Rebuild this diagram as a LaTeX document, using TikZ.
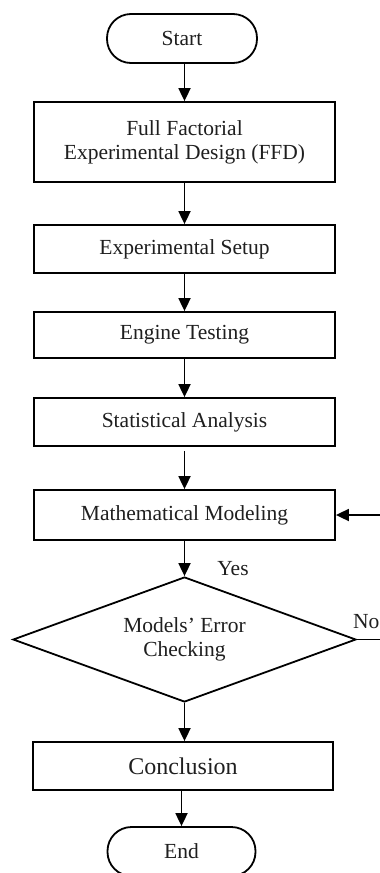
\documentclass[tikz,border=0pt]{standalone}
\usepackage{fontspec}
\setmainfont{Liberation Serif}
\usetikzlibrary{arrows.meta,shapes.geometric}
\begin{document}
\begin{tikzpicture}[x=1pt,y=-1pt,
  every node/.style={font=\fontsize{21.5}{24}\selectfont, text=black!88},
  procbox/.style={draw, line width=1.8pt, minimum width=301pt, inner sep=0pt},
  termbox/.style={draw, line width=1.8pt, minimum width=150pt, minimum height=49pt, rounded corners=24pt, inner sep=0pt},
  decbox/.style={draw, diamond, line width=1.8pt, aspect=2.744, minimum width=343pt, minimum height=125pt, inner sep=0pt, align=center},
  flow/.style={line width=1.8pt, -{Triangle[width=12pt,length=13pt]}},
  lbl/.style={inner sep=0pt}]
\useasboundingbox (0,0) rectangle (380,873);
\node[termbox] (start) at (182,38.5) {Start};
\node[procbox, minimum height=80pt, align=center] (ffd) at (184.5,142) {\fontsize{21.5}{35}\selectfont Full Factorial\\ Experimental Design (FFD)};
\node[procbox, minimum height=48pt] (setup) at (184.5,249) {Experimental Setup};
\node[procbox, minimum height=46pt] (engine) at (184.5,335) {Engine Testing};
\node[procbox, minimum height=48pt] (stat) at (184.5,422) {Statistical Analysis};
\node[procbox, minimum height=50pt] (model) at (184.5,515) {Mathematical Modeling};
\node[decbox] (check) at (184.5,639.5) {\fontsize{21.5}{22}\selectfont Models' Error\\ Checking};
\node[procbox, minimum width=300pt, minimum height=48pt, font=\fontsize{24}{28}\selectfont] (concl) at (183,766) {Conclusion};
\node[termbox, minimum width=148pt] (end) at (181.5,851.5) {End};
\node[lbl] (yes) at (233,569) {Yes};
\node[lbl, anchor=west] (no) at (353,622) {No};
\coordinate (fbA) at (395,639.5);
\coordinate (fbB) at (395,515);
\draw[flow] (start.south -| ffd.north) -- (ffd.north);
\draw[flow] (ffd) -- (setup);
\draw[flow] (setup) -- (engine);
\draw[flow] (engine) -- (stat);
\draw[flow, shorten <=4pt] (stat) -- (model);
\draw[flow] (model) -- (check);
\draw[flow] (check) -- (concl.north -| check.south);
\draw[flow] (concl.south -| end.north) -- (end);
\draw[flow] (check.east) -- (fbA) -- (fbB) -- (model.east);
\end{tikzpicture}
\end{document}
